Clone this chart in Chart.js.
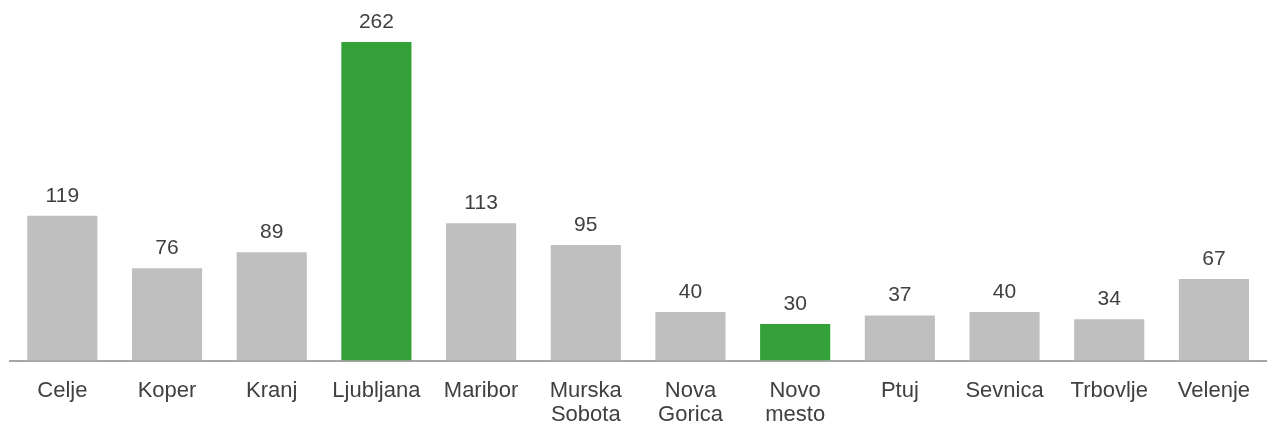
<!DOCTYPE html>
<html>
<head>
<meta charset="utf-8">
<script src="https://cdn.jsdelivr.net/npm/chart.js@4/dist/chart.umd.min.js"></script>
<style>
  html, body { margin: 0; padding: 0; background: #fff; overflow: hidden; }
  #wrap { width: 1268px; height: 426px; }
</style>
</head>
<body>
<div id="wrap"><canvas id="barChart"></canvas></div>
<script>
const cities = ['Celje', 'Koper', 'Kranj', 'Ljubljana', 'Maribor', ['Murska', 'Sobota'],
  ['Nova', 'Gorica'], ['Novo', 'mesto'], 'Ptuj', 'Sevnica', 'Trbovlje', 'Velenje'];
const counts = [119, 76, 89, 262, 113, 95, 40, 30, 37, 40, 34, 67];
const highlighted = [3, 7];

const grey = '#bfbfbf';
const green = '#33a138';
const textColor = '#404040';
const fontFamily = '"Liberation Sans", Arial, sans-serif';

const valueLabels = {
  id: 'valueLabels',
  afterDatasetsDraw(chart) {
    const ctx = chart.ctx;
    const meta = chart.getDatasetMeta(0);
    ctx.save();
    ctx.font = '21px ' + fontFamily;
    ctx.fillStyle = textColor;
    ctx.textAlign = 'center';
    ctx.textBaseline = 'middle';
    meta.data.forEach((bar, i) => {
      ctx.fillText(String(counts[i]), bar.x, bar.y - 20);
    });
    ctx.restore();
  }
};

const ctx = document.getElementById('barChart').getContext('2d');
new Chart(ctx, {
  type: 'bar',
  data: {
    labels: cities,
    datasets: [{
      data: counts,
      backgroundColor: counts.map((_, i) => highlighted.includes(i) ? green : grey),
      barPercentage: 0.67,
      categoryPercentage: 1
    }]
  },
  options: {
    responsive: true,
    maintainAspectRatio: false,
    animation: false,
    layout: { padding: { left: 10, right: -3, top: 0, bottom: -19 } },
    plugins: {
      legend: { display: false },
      tooltip: { enabled: false }
    },
    scales: {
      x: {
        grid: { display: false, drawTicks: false },
        border: { display: true, color: '#a6a6a6', width: 2 },
        ticks: {
          color: textColor,
          padding: 18,
          maxRotation: 0,
          autoSkip: false,
          font: { family: fontFamily, size: 22, lineHeight: 1.1 }
        }
      },
      y: {
        display: false,
        min: 0,
        max: 296.5
      }
    }
  },
  plugins: [valueLabels]
});
</script>
</body>
</html>
